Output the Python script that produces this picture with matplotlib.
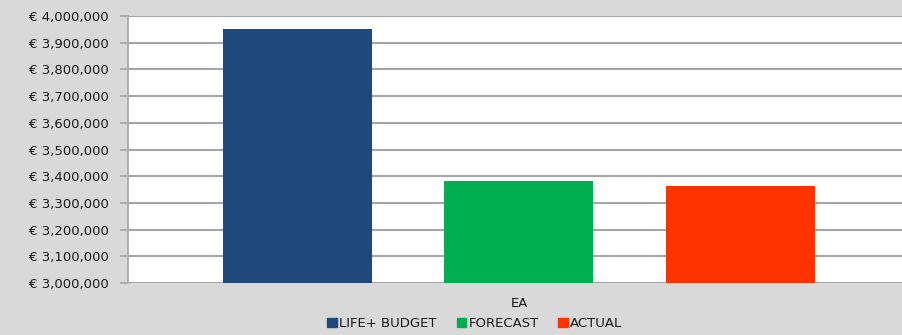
import matplotlib
matplotlib.use('Agg')
import matplotlib.pyplot as plt
from matplotlib.ticker import FuncFormatter
from matplotlib.patches import Patch

# data
category = "EA"
series = ["LIFE+ BUDGET", "FORECAST", "ACTUAL"]
values = [3951000, 3382000, 3363000]
colors = ["#1f497d", "#00b050", "#ff3300"]
offsets = [0.217, 0.499, 0.783]

plt.rcParams['font.family'] = ['DejaVu Sans']

fig = plt.figure(figsize=(9.03, 3.35), dpi=100)
fig.patch.set_facecolor('#d9d9d9')
ax = fig.add_axes([128 / 903, (335 - 283) / 335, 782 / 903, (283 - 16) / 335])
ax.set_facecolor('white')

for s, v, c, o in zip(series, values, colors, offsets):
    ax.bar(o, v, width=0.19, color=c, label=s, zorder=3)

ax.set_xlim(0, 1)
ax.set_ylim(3000000, 4000000)
ax.set_yticks(range(3000000, 4000001, 100000))
ax.yaxis.set_major_formatter(FuncFormatter(lambda v, p: "€ {:,.0f}".format(v)))
ax.grid(axis='y', color='#a6a6a6', linewidth=1.5, zorder=1)
ax.set_xticks([0.5])
ax.set_xticklabels([category])
ax.tick_params(axis='x', length=0, pad=10, labelsize=9.5, labelcolor='#1a1a1a')
ax.tick_params(axis='y', length=6, color='#a6a6a6', width=1.2, labelsize=9.5,
               pad=8, labelcolor='#1a1a1a')
for sp in ['top', 'right', 'bottom']:
    ax.spines[sp].set_visible(False)
ax.spines['left'].set_color('#a6a6a6')
ax.spines['left'].set_linewidth(1.2)

handles = [Patch(color=c, label=s) for s, c in zip(series, colors)]
fig.legend(handles=handles, loc='center', bbox_to_anchor=(0.526, 0.035), ncol=3,
           frameon=False, fontsize=9.5, handlelength=0.7, handleheight=0.7,
           handletextpad=0.2, columnspacing=1.5, labelcolor='#1a1a1a')

fig.savefig('out.png', dpi=100, facecolor=fig.get_facecolor())
